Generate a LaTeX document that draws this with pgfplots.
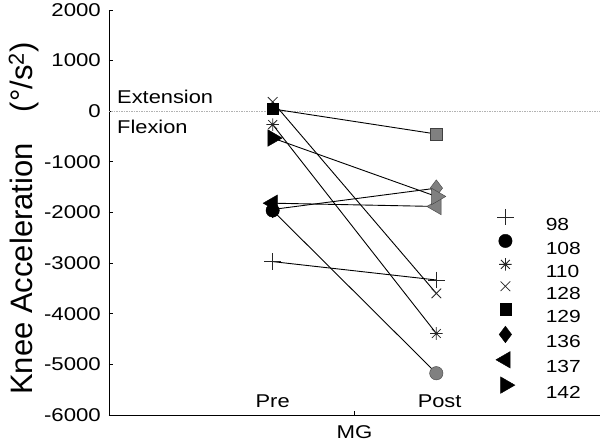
\documentclass[border=0pt]{standalone}
\usepackage{fontspec}
\setmainfont{Liberation Sans}
\usepackage{graphicx}
\usepackage{pgfplots}
\pgfplotsset{compat=1.18}

% asterisk with 8 spokes
\pgfdeclareplotmark{ast8}{%
  \pgfpathmoveto{\pgfqpoint{-\pgfplotmarksize}{0pt}}%
  \pgfpathlineto{\pgfqpoint{\pgfplotmarksize}{0pt}}%
  \pgfpathmoveto{\pgfqpoint{0pt}{-\pgfplotmarksize}}%
  \pgfpathlineto{\pgfqpoint{0pt}{\pgfplotmarksize}}%
  \pgfpathmoveto{\pgfqpoint{-0.707\pgfplotmarksize}{-0.707\pgfplotmarksize}}%
  \pgfpathlineto{\pgfqpoint{0.707\pgfplotmarksize}{0.707\pgfplotmarksize}}%
  \pgfpathmoveto{\pgfqpoint{-0.707\pgfplotmarksize}{0.707\pgfplotmarksize}}%
  \pgfpathlineto{\pgfqpoint{0.707\pgfplotmarksize}{-0.707\pgfplotmarksize}}%
  \pgfusepathqstroke}

\definecolor{postfill}{gray}{0.5}
\definecolor{postedge}{gray}{0.25}
\definecolor{linemk}{gray}{0.15}

\newcommand{\wt}[1]{\scalebox{1.2}[1]{#1}}

\begin{document}
\begin{tikzpicture}
\useasboundingbox (-109pt,-29pt) rectangle (491pt,415pt);
\begin{axis}[
  scale only axis, width=491pt, height=405pt,
  at={(0pt,0pt)}, anchor=south west,
  xmin=0, xmax=3, ymin=-6000, ymax=2000,
  axis x line=bottom, axis y line=left,
  axis line style={-, line width=0.8pt},
  xtick={1.5}, xticklabels={\wt{MG}},
  ytick={-6000,-5000,-4000,-3000,-2000,-1000,0,1000,2000},
  yticklabels={\wt{-6000},\wt{-5000},\wt{-4000},\wt{-3000},\wt{-2000},\wt{-1000},\wt{0},\wt{1000},\wt{2000}},
  tick align=inside, major tick length=4pt,
  tick style={black, line width=0.8pt},
  ticklabel style={font=\fontsize{18.5pt}{20pt}\selectfont, inner sep=0pt},
  yticklabel style={xshift=-8pt},
  xticklabel style={yshift=-10pt},
  ylabel={Knee Acceleration\hspace{1em}(°/s\textsuperscript{2})},
  ylabel style={at={(axis description cs:-0.1548,0.485)}, anchor=base,
    font=\fontsize{31pt}{33pt}\selectfont},
  clip=false,
  legend style={draw=none, fill=none, inner sep=0pt, outer sep=0pt,
    at={(axis description cs:0.7821,0.509)}, anchor=north west,
    column sep=28pt, row sep=0pt,
    font=\fontsize{17.5pt}{20pt}\selectfont,
    nodes={inner sep=0pt, text height=17pt, text depth=4pt}},
  legend cell align=left,
  legend image code/.code={\path (0pt,0pt) (24pt,0pt);
    \draw[#1] plot coordinates {(12pt,6.6pt)};},
  ]

% zero line
\addplot[forget plot, gray!60, line width=0.6pt, dash pattern=on 1.5pt off 1pt]
  coordinates {(0,0) (3,0)};

% connecting lines
\addplot[forget plot, black, line width=0.9pt] coordinates {(1,-2970) (2,-3333)};
\addplot[forget plot, black, line width=0.9pt] coordinates {(1,-1960) (2,-5175)};
\addplot[forget plot, black, line width=0.9pt] coordinates {(1,-263) (2,-4390)};
\addplot[forget plot, black, line width=0.9pt] coordinates {(1,184) (2,-3598)};
\addplot[forget plot, black, line width=0.9pt] coordinates {(1,46) (2,-450)};
\addplot[forget plot, black, line width=0.9pt] coordinates {(1,-1940) (2,-1519)};
\addplot[forget plot, black, line width=0.9pt] coordinates {(1,-1816) (2,-1881)};
\addplot[forget plot, black, line width=0.9pt] coordinates {(1,-529) (2,-1683)};

% Pre markers (black)
\addplot[only marks, mark=+, mark size=8.3pt, linemk, line width=0.8pt] coordinates {(1,-2970)};
\addplot[only marks, mark=*, mark size=6.7pt, black, mark options={fill=black}] coordinates {(1,-1960)};
\addplot[only marks, mark=ast8, mark size=6.3pt, linemk, line width=0.8pt] coordinates {(1,-263)};
\addplot[only marks, mark=x, mark size=6.8pt, linemk, line width=0.8pt] coordinates {(1,184)};
\addplot[only marks, mark=square*, mark size=5.7pt, black, mark options={fill=black}] coordinates {(1,46)};
\addplot[only marks, mark=diamond*, mark size=8.3pt, black, mark options={fill=black}] coordinates {(1,-1940)};
\addplot[only marks, mark=triangle*, mark size=9.5pt, black, mark options={fill=black, rotate=90}] coordinates {(1,-1816)};
\addplot[only marks, mark=triangle*, mark size=9.5pt, black, mark options={fill=black, rotate=-90}] coordinates {(1,-529)};

% Post markers (gray)
\addplot[forget plot, only marks, mark=+, mark size=8.3pt, linemk, line width=0.8pt] coordinates {(2,-3333)};
\addplot[forget plot, only marks, mark=*, mark size=6.7pt, postedge, mark options={fill=postfill}] coordinates {(2,-5175)};
\addplot[forget plot, only marks, mark=ast8, mark size=6.3pt, linemk, line width=0.8pt] coordinates {(2,-4390)};
\addplot[forget plot, only marks, mark=x, mark size=6.8pt, linemk, line width=0.8pt] coordinates {(2,-3598)};
\addplot[forget plot, only marks, mark=square*, mark size=5.7pt, postedge, mark options={fill=postfill}] coordinates {(2,-450)};
\addplot[forget plot, only marks, mark=diamond*, mark size=8.3pt, postedge, mark options={fill=postfill}] coordinates {(2,-1519)};
\addplot[forget plot, only marks, mark=triangle*, mark size=9.5pt, postedge, mark options={fill=postfill, rotate=90}] coordinates {(2,-1881)};
\addplot[forget plot, only marks, mark=triangle*, mark size=9.5pt, postedge, mark options={fill=postfill, rotate=-90}] coordinates {(2,-1683)};

\legend{\wt{98},\wt{108},\wt{110},\wt{128},\wt{129},\wt{136},\wt{137},\wt{142}}

% annotations
\node[anchor=base west, inner sep=0pt, font=\fontsize{18.5pt}{20pt}\selectfont] at (axis cs:0.049,158) {\scalebox{1.18}[1]{Extension}};
\node[anchor=base west, inner sep=0pt, font=\fontsize{18.5pt}{20pt}\selectfont] at (axis cs:0.049,-442) {\scalebox{1.18}[1]{Flexion}};
\node[anchor=base, inner sep=0pt, font=\fontsize{18.5pt}{20pt}\selectfont] at (axis cs:1,-5855) {\scalebox{1.18}[1]{Pre}};
\node[anchor=base, inner sep=0pt, font=\fontsize{18.5pt}{20pt}\selectfont] at (axis cs:2.02,-5855) {\scalebox{1.18}[1]{Post}};
\end{axis}
\end{tikzpicture}
\end{document}
